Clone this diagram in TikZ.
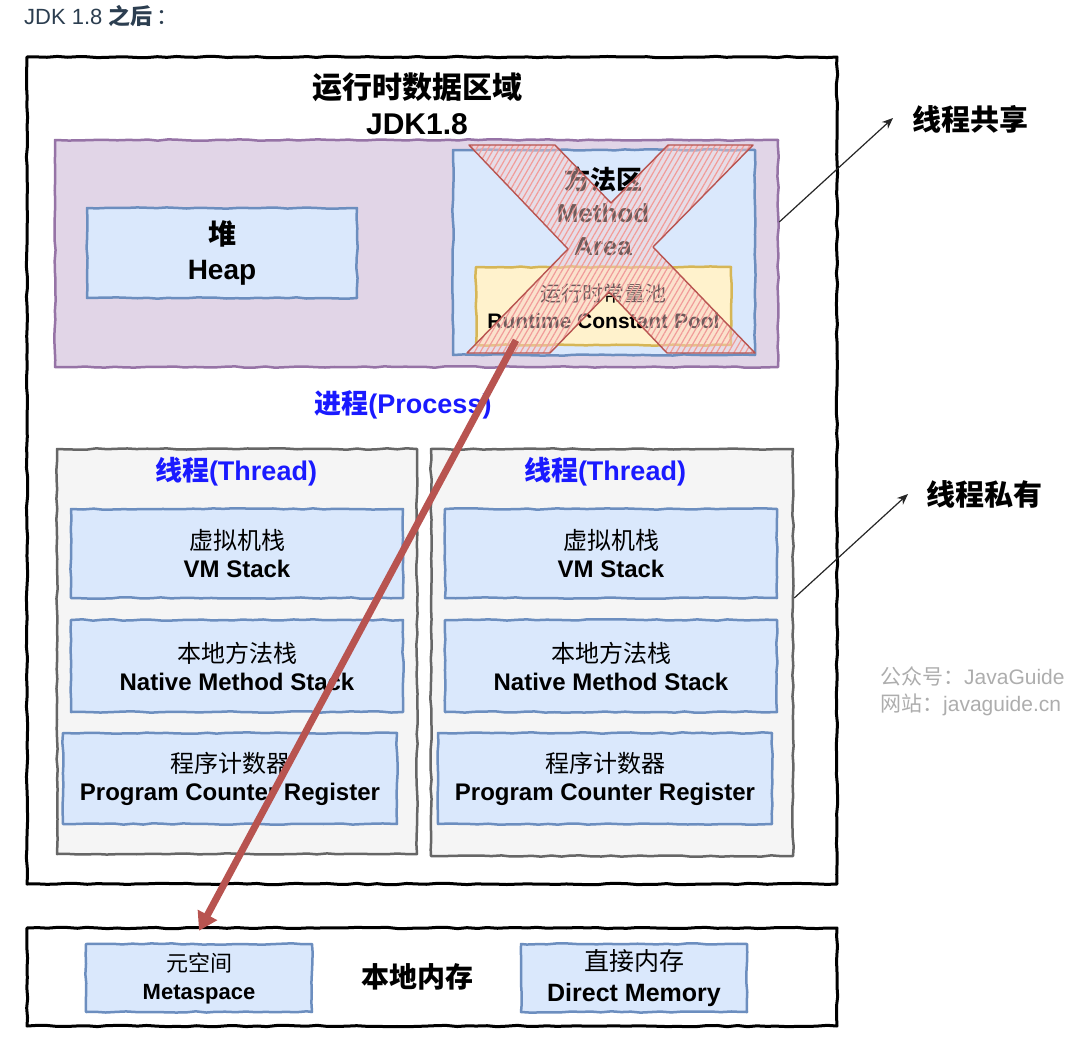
\documentclass[tikz,border=0pt]{standalone}
\usepackage{fontspec}
\setmainfont{Liberation Sans}
\newfontfamily\cjk{Noto Sans CJK SC}
\usetikzlibrary{decorations.pathmorphing,patterns.meta,arrows.meta,calc}
\definecolor{pfill}{HTML}{E1D5E7}
\definecolor{pline}{HTML}{9673A6}
\definecolor{bfill}{HTML}{DAE8FC}
\definecolor{bline}{HTML}{6C8EBF}
\definecolor{yfill}{HTML}{FFF2CC}
\definecolor{yline}{HTML}{D6B656}
\definecolor{gfill}{HTML}{F5F5F5}
\definecolor{gline}{HTML}{666666}
\definecolor{rline}{HTML}{B85450}
\definecolor{rhatch}{HTML}{F19C99}
\definecolor{rfill}{HTML}{F8CECC}
\definecolor{blutext}{HTML}{1A1AFF}
\definecolor{headtext}{HTML}{2C3E50}
\definecolor{wmark}{HTML}{ADADAD}
\newcommand\zh[1]{{\cjk #1}}
\begin{document}
\begin{tikzpicture}[x=1pt,y=-1pt,
  sketch/.style={decorate,decoration={random steps,segment length=10pt,amplitude=0.7pt}},
  box/.style={draw,sketch,line width=2.5pt,line join=round,inner sep=0pt,align=center},
  bluebox/.style={box,draw=bline,fill=bfill},
  purplebox/.style={box,draw=pline,fill=pfill},
  yellowbox/.style={box,draw=yline,fill=yfill},
  graybox/.style={box,draw=gline,fill=gfill},
  blackbox/.style={box,draw=black,fill=white,line width=3pt},
  txt/.style={inner sep=0pt,align=center},
  f23/.style={font=\bfseries\fontsize{24}{28}\selectfont},
  bluelbl/.style={txt,text=blutext,font=\bfseries\fontsize{27}{32}\selectfont},
  sidelbl/.style={txt,anchor=west,font=\bfseries\fontsize{29}{34}\selectfont},
  thinarrow/.style={draw=black!85,line width=1.2pt,-{Stealth[length=11pt,width=9pt]}},
  redarrow/.style={draw=rline,line width=7pt,-{Triangle[length=18pt,width=21pt]}},
  wm/.style={txt,anchor=west,text=wmark,font=\fontsize{21}{25}\selectfont}
]
\pgfmathsetseed{7}
\useasboundingbox (0,0) rectangle (1074,1044);

% header
\node[txt,anchor=west,text=headtext,font=\fontsize{22}{25}\selectfont] (head) at (24,16) {JDK 1.8 \zh{\bfseries 之后\mdseries \,：}};

% outer runtime area
\node[blackbox,minimum width=810pt,minimum height=827pt] (outer) at (432,470.5) {};
\node[txt,font=\bfseries\fontsize{30}{36}\selectfont] (title) at (417,104) {\zh{运行时数据区域}\\JDK1.8};

% shared (purple) area
\node[purplebox,minimum width=723pt,minimum height=227pt] (shared) at (416.5,253.5) {};
\node[bluebox,minimum width=270pt,minimum height=90pt,font=\bfseries\fontsize{28}{35}\selectfont] (heap) at (222,253) {\zh{堆}\\Heap};
\node[bluebox,minimum width=302pt,minimum height=205pt] (method) at (604,252.5) {};
\node[txt,font=\bfseries\fontsize{26}{33}\selectfont] (mtext) at (603,211) {\zh{方法区}\\Method\\Area};
\node[yellowbox,minimum width=255pt,minimum height=78pt,font=\bfseries\fontsize{21}{27}\selectfont] (pool) at (603.5,306) {\zh{\mdseries 运行时常量池}\\Runtime Constant Pool};

% red cross over method area
\path[fill=rfill,fill opacity=0.45]
  (469,145) -- (555,145) -- (611,203) -- (668,145) -- (753,145) -- (653,247) -- (755,353) -- (667,353) -- (609,292) -- (550,353) -- (467,353) -- (568,249) -- cycle;
\path[pattern={Lines[angle=60,distance=5pt,line width=1.2pt]},pattern color=rhatch,fill opacity=0.85]
  (469,145) -- (555,145) -- (611,203) -- (668,145) -- (753,145) -- (653,247) -- (755,353) -- (667,353) -- (609,292) -- (550,353) -- (467,353) -- (568,249) -- cycle;
\draw[rline,line width=1.4pt,line join=round]
  (469,145) -- (555,145) -- (611,203) -- (668,145) -- (753,145) -- (653,247) -- (755,353) -- (667,353) -- (609,292) -- (550,353) -- (467,353) -- (568,249) -- cycle;

\node[bluelbl] (proc) at (403,405) {\zh{进程}(Process)};

% threads
\node[graybox,minimum width=360pt,minimum height=405pt] (thL) at (237,651.5) {};
\node[graybox,minimum width=362pt,minimum height=407pt] (thR) at (612,652.5) {};
\node[bluelbl] (thLt) at (236,472) {\zh{线程}(Thread)};
\node[bluelbl] (thRt) at (605,472) {\zh{线程}(Thread)};

\node[bluebox,f23,minimum width=332pt,minimum height=89pt] (vmL) at (237,553.5) {\zh{\mdseries 虚拟机栈}\\VM Stack};
\node[bluebox,f23,minimum width=332pt,minimum height=92pt] (natL) at (237,666) {\zh{\mdseries 本地方法栈}\\Native Method Stack};
\node[bluebox,f23,minimum width=334pt,minimum height=91pt] (pcL) at (230,778.5) {\zh{\mdseries 程序计数器}\\Program Counter Register};
\node[bluebox,f23,minimum width=332pt,minimum height=89pt] (vmR) at (611,553.5) {\zh{\mdseries 虚拟机栈}\\VM Stack};
\node[bluebox,f23,minimum width=332pt,minimum height=92pt] (natR) at (611,666) {\zh{\mdseries 本地方法栈}\\Native Method Stack};
\node[bluebox,f23,minimum width=334pt,minimum height=91pt] (pcR) at (605,778.5) {\zh{\mdseries 程序计数器}\\Program Counter Register};

% native memory
\node[blackbox,minimum width=810pt,minimum height=98pt] (native) at (432,977) {};
\node[bluebox,minimum width=226pt,minimum height=68pt,font=\bfseries\fontsize{22}{28}\selectfont] (meta) at (199,978) {\zh{\mdseries 元空间}\\Metaspace};
\node[txt,font=\bfseries\fontsize{28}{32}\selectfont] (nlbl) at (417,977) {\zh{本地内存}};
\node[bluebox,minimum width=226pt,minimum height=68pt,font=\bfseries\fontsize{25}{31}\selectfont] (direct) at (634,978) {\zh{\mdseries 直接内存}\\Direct Memory};

% side labels and arrows
\node[sidelbl] (lshare) at (912,119) {\zh{线程共享}};
\node[sidelbl] (lpriv) at (926,494) {\zh{线程私有}};
\coordinate (pshare) at ($(shared.east)+(0,-31.5)$);
\coordinate (ppriv) at ($(thR.east)+(0,-54.5)$);
\draw[thinarrow] (pshare) -- ($(lshare.west)+(-19,-1)$);
\draw[thinarrow] (ppriv) -- ($(lpriv.west)+(-18,0)$);

% watermark
\node[wm] (wm1) at (880,676) {\zh{公众号：}JavaGuide};
\node[wm] (wm2) at (880,705) {\zh{网站：}javaguide.cn};

% red arrow: runtime constant pool -> metaspace
\draw[redarrow] ($(pool.south west)!0.16!(pool.south east)+(0,-6)$) -- ($(meta.north)+(0,-12)$);
\end{tikzpicture}
\end{document}
